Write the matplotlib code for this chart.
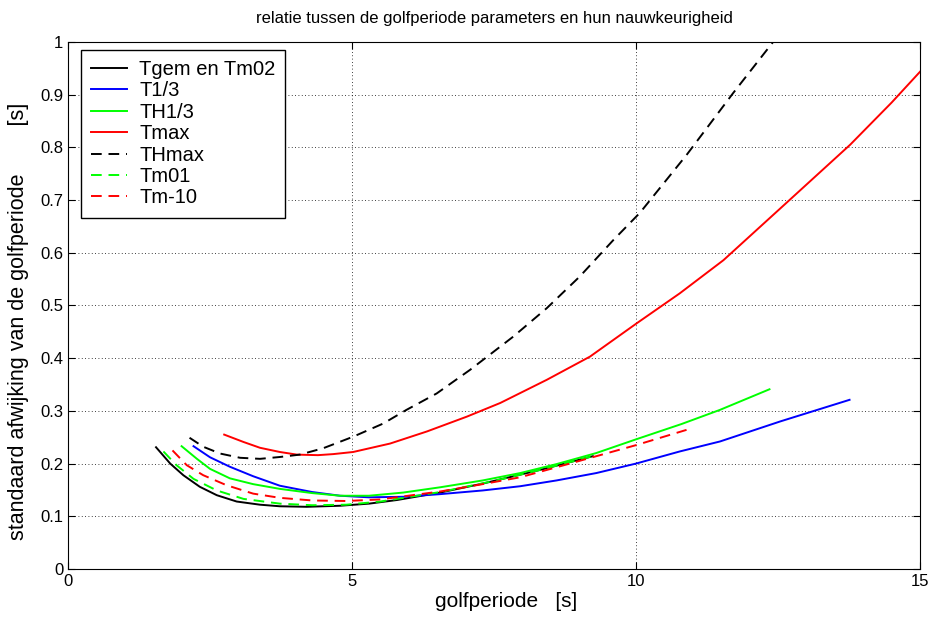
import matplotlib
matplotlib.use("Agg")
import matplotlib.pyplot as plt

x_tgem = [1.55, 1.80, 2.03, 2.32, 2.62, 2.97, 3.38, 3.73, 4.2, 4.79, 5.3, 5.8, 6.55, 7.3, 8.31, 9.24]
y_tgem = [0.231, 0.200, 0.178, 0.156, 0.140, 0.128, 0.122, 0.119, 0.118, 0.120, 0.124, 0.131, 0.145, 0.162, 0.188, 0.214]

x_t13 = [2.21, 2.5, 2.85, 3.26, 3.73, 4.3, 4.79, 5.3, 5.9, 6.55, 7.3, 7.96, 8.6, 9.3, 10.0, 10.77, 11.48, 12.54, 13.76]
y_t13 = [0.233, 0.212, 0.194, 0.176, 0.158, 0.146, 0.139, 0.136, 0.137, 0.142, 0.149, 0.157, 0.168, 0.182, 0.200, 0.223, 0.242, 0.280, 0.321]

x_th13 = [2.0, 2.27, 2.5, 2.85, 3.26, 3.73, 4.3, 4.79, 5.3, 5.9, 6.55, 7.3, 7.96, 8.6, 9.3, 10.0, 10.8, 11.48, 12.35]
y_th13 = [0.233, 0.209, 0.190, 0.172, 0.161, 0.152, 0.144, 0.139, 0.139, 0.145, 0.155, 0.168, 0.182, 0.199, 0.220, 0.246, 0.275, 0.302, 0.341]

x_tmax = [2.75, 3.09, 3.38, 3.73, 4.03, 4.4, 4.67, 5.02, 5.67, 6.32, 7.02, 7.61, 8.43, 9.19, 10.01, 10.77, 11.54, 12.6, 13.77, 14.5, 15.03]
y_tmax = [0.255, 0.241, 0.230, 0.222, 0.217, 0.216, 0.218, 0.222, 0.238, 0.261, 0.289, 0.315, 0.359, 0.403, 0.466, 0.523, 0.586, 0.690, 0.805, 0.885, 0.947]

x_thmax = [2.14, 2.38, 2.68, 3.03, 3.38, 3.73, 4.08, 4.49, 5.02, 5.55, 5.96, 6.49, 7.08, 7.84, 8.43, 9.01, 9.6, 10.07, 10.9, 11.71, 12.45]
y_thmax = [0.249, 0.232, 0.219, 0.211, 0.209, 0.2125, 0.217, 0.229, 0.251, 0.276, 0.302, 0.333, 0.378, 0.441, 0.495, 0.555, 0.624, 0.676, 0.787, 0.903, 1.005]

x_tm01 = [1.68, 1.91, 2.21, 2.62, 3.09, 3.73, 4.3, 4.9, 5.5, 6.55, 7.5, 8.31, 9.2]
y_tm01 = [0.223, 0.197, 0.171, 0.149, 0.133, 0.124, 0.121, 0.122, 0.128, 0.146, 0.167, 0.188, 0.213]

x_tm10 = [1.84, 2.09, 2.38, 2.79, 3.26, 3.73, 4.3, 4.9, 5.5, 6.55, 7.3, 7.96, 8.6, 9.3, 10.0, 10.89]
y_tm10 = [0.225, 0.197, 0.178, 0.159, 0.143, 0.135, 0.130, 0.129, 0.132, 0.147, 0.161, 0.174, 0.193, 0.214, 0.235, 0.264]

series = [
    ("Tgem en Tm02", x_tgem, y_tgem, "black", "-"),
    ("T1/3", x_t13, y_t13, "#0000ff", "-"),
    ("TH1/3", x_th13, y_th13, "#00ff00", "-"),
    ("Tmax", x_tmax, y_tmax, "#ff0000", "-"),
    ("THmax", x_thmax, y_thmax, "black", "--"),
    ("Tm01", x_tm01, y_tm01, "#00ff00", "--"),
    ("Tm-10", x_tm10, y_tm10, "#ff0000", "--"),
]

plt.rcParams['font.family'] = ['Liberation Sans', 'DejaVu Sans']

fig = plt.figure(figsize=(9.34, 6.23), dpi=100)
ax = fig.add_axes([0.0728, 0.0867, 0.9122, 0.8459])

for name, xs, ys, col, ls in series:
    if ls == "--":
        ax.plot(xs, ys, color=col, linestyle=(0, (5.5, 3.5)), linewidth=1.4, label=name)
    else:
        ax.plot(xs, ys, color=col, linestyle=ls, linewidth=1.4, label=name)

ax.set_xlim(0, 15)
ax.set_ylim(0, 1)
ax.set_xticks([0, 5, 10, 15])
ax.set_yticks([0, 0.1, 0.2, 0.3, 0.4, 0.5, 0.6, 0.7, 0.8, 0.9, 1])
ax.set_yticklabels(["0", "0.1", "0.2", "0.3", "0.4", "0.5", "0.6", "0.7", "0.8", "0.9", "1"])
ax.tick_params(direction='in', top=True, right=True, labelsize=12, length=5)
ax.grid(True, color='black', linestyle=(0, (1, 3)), linewidth=0.6)

ax.set_title('relatie tussen de golfperiode parameters en hun nauwkeurigheid', fontsize=12, pad=14)
ax.set_xlabel('golfperiode   [s]', fontsize=15)
ax.set_ylabel('standaard afwijking van de golfperiode        [s]', fontsize=15.5)
ax.xaxis.set_label_coords(0.514, -0.043)
ax.yaxis.set_label_coords(-0.046, 0.4696)

leg = ax.legend(loc='upper left', bbox_to_anchor=(0.015, 0.985), fontsize=14.5, fancybox=False,
                framealpha=1, edgecolor='black', handlelength=1.8, handletextpad=0.6,
                borderaxespad=0, labelspacing=0.12, borderpad=0.5)
leg.get_frame().set_linewidth(1.0)

fig.savefig('out.png', dpi=100)
